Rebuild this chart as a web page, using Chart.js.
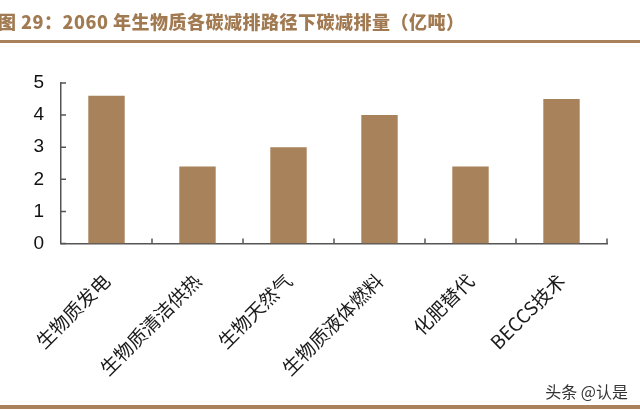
<!DOCTYPE html>
<html lang="zh">
<head>
    <meta charset="UTF-8">
    <title>2060 年生物质各碳减排路径下碳减排量</title>
    <script src="https://cdn.jsdelivr.net/npm/chart.js"></script>
    <style>
        body {
            margin: 0;
            background: #ffffff;
        }
        .wrap {
            position: relative;
            width: 640px;
            height: 410px;
            overflow: hidden;
            background: #ffffff;
        }
        .title {
            position: absolute;
            left: -2px;
            top: 8px;
            font-family: "Noto Sans CJK SC", sans-serif;
            font-weight: 900;
            font-size: 18px;
            letter-spacing: 0.5px;
            color: #a27a52;
            white-space: nowrap;
            z-index: 2;
        }
        .rule {
            position: absolute;
            left: 0;
            width: 640px;
            background: #a9825c;
            z-index: 2;
        }
        .mark {
            position: absolute;
            right: 12px;
            top: 379px;
            font-family: "Noto Sans CJK SC", sans-serif;
            font-size: 16px;
            color: #333333;
            z-index: 2;
        }
        #chart {
            position: absolute;
            left: 0;
            top: 0;
        }
    </style>
</head>
<body>
<div class="wrap">
    <div class="title">图 29：2060 年生物质各碳减排路径下碳减排量（亿吨）</div>
    <div class="rule" style="top:40px;height:3px;"></div>
    <canvas id="chart" width="640" height="410"></canvas>
    <div class="mark">头条 @认是</div>
    <div class="rule" style="top:405px;height:4px;"></div>
</div>

<script>
    // chart data
    const categories = ['生物质发电', '生物质清洁供热', '生物天然气', '生物质液体燃料', '化肥替代', 'BECCS技术'];
    const reductions = [4.6, 2.4, 3.0, 4.0, 2.4, 4.5];
    const yTicks = [0, 1, 2, 3, 4, 5];

    const axisColor = '#555555';

    // small tick marks pointing into the plot, like the original
    const innerTicks = {
        id: 'innerTicks',
        afterDraw(chart) {
            const ctx = chart.ctx;
            const x = chart.scales.x;
            const y = chart.scales.y;
            ctx.save();
            ctx.strokeStyle = axisColor;
            ctx.lineWidth = 1.5;
            ctx.beginPath();
            yTicks.forEach(v => {
                const py = y.getPixelForValue(v);
                ctx.moveTo(x.left, py);
                ctx.lineTo(x.left + 5, py);
            });
            const step = (x.right - x.left) / categories.length;
            for (let i = 1; i <= categories.length; i++) {
                const px = x.left + step * i;
                ctx.moveTo(px, y.bottom);
                ctx.lineTo(px, y.bottom - 5);
            }
            ctx.stroke();
            ctx.restore();
        }
    };

    new Chart(document.getElementById('chart'), {
        type: 'bar',
        data: {
            labels: categories,
            datasets: [{
                data: reductions,
                backgroundColor: '#a8825a',
                borderWidth: 0,
                barPercentage: 0.4,
                categoryPercentage: 1
            }]
        },
        options: {
            responsive: false,
            animation: false,
            layout: {
                padding: { top: 83, right: 33, left: 0, bottom: 0 }
            },
            plugins: {
                legend: { display: false },
                tooltip: { enabled: false }
            },
            scales: {
                x: {
                    grid: { display: false, drawTicks: false },
                    border: { display: true, color: axisColor, width: 1.5 },
                    ticks: {
                        minRotation: 45,
                        maxRotation: 45,
                        padding: 26,
                        color: '#1a1a1a',
                        font: { family: '"Noto Sans CJK SC", sans-serif', size: 19 }
                    },
                    afterFit(scale) { scale.height = 166.5; }
                },
                y: {
                    min: 0,
                    max: 5,
                    grid: { display: false, drawTicks: false },
                    border: { display: true, color: axisColor, width: 1.5 },
                    ticks: {
                        stepSize: 1,
                        padding: 17,
                        color: '#111111',
                        font: { family: '"Liberation Sans", Arial, sans-serif', size: 19 }
                    },
                    afterFit(scale) { scale.width = 61; }
                }
            }
        },
        plugins: [innerTicks]
    });
</script>
</body>
</html>
